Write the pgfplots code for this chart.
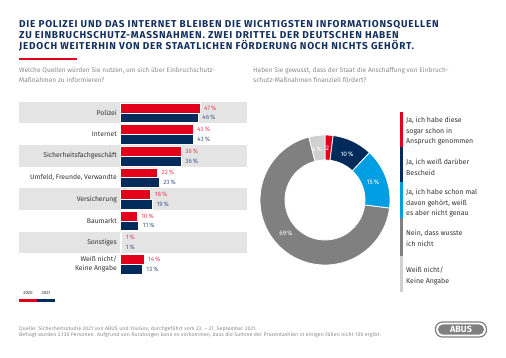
\documentclass[border=0pt]{standalone}
\usepackage{fontspec}
\setmainfont{Fira Sans}
\newfontfamily\titlefont{Fira Sans}[LetterSpace=7.5]
\newfontfamily\footfont{Fira Sans}[LetterSpace=2.2]
\usepackage{pgfplots}
\pgfplotsset{compat=1.18}
\definecolor{abusred}{HTML}{E2001A}
\definecolor{navy}{HTML}{002B5B}
\definecolor{abusblue}{HTML}{009FE3}
\definecolor{midgray}{HTML}{808080}
\definecolor{ltgray}{HTML}{D0D0D0}
\definecolor{band}{HTML}{E4E4E4}
\definecolor{titleblue}{HTML}{13305E}
\definecolor{redlab}{HTML}{E8465C}
\definecolor{navylab}{HTML}{3F5E8C}
\definecolor{qgray}{HTML}{8A8A8A}
\definecolor{txt}{HTML}{333333}
\newcommand{\seg}[3]{%
  \fill[#3, draw=white, line width=0.8pt]
    (axis cs:{65*cos(90-3.6*#1)},{65*sin(90-3.6*#1)})
    arc[start angle={90-3.6*#1}, end angle={90-3.6*(#1+#2)}, radius=65pt]
    -- (axis cs:{40*cos(90-3.6*(#1+#2))},{40*sin(90-3.6*(#1+#2))})
    arc[start angle={90-3.6*(#1+#2)}, end angle={90-3.6*#1}, radius=40pt]
    -- cycle;}
\begin{document}
\begin{tikzpicture}[x=1pt,y=1pt]
\useasboundingbox (0pt,0pt) rectangle (506pt,-357pt);
% title
\begin{scope}[every node/.style={anchor=base west, inner sep=0pt, text=titleblue, font=\titlefont\fontsize{10}{11}\selectfont\bfseries}]
\node at (19pt,-27.3pt) {DIE POLIZEI UND DAS INTERNET BLEIBEN DIE WICHTIGSTEN INFORMATIONSQUELLEN};
\node at (19pt,-38.3pt) {ZU EINBRUCHSCHUTZ-MASSNAHMEN. ZWEI DRITTEL DER DEUTSCHEN HABEN};
\node at (19pt,-49.3pt) {JEDOCH WEITERHIN VON DER STAATLICHEN FÖRDERUNG NOCH NICHTS GEHÖRT.};
\end{scope}
\fill[abusred] (19pt,-58.4pt) rectangle (77pt,-59.8pt);
% questions
\begin{scope}[every node/.style={anchor=base west, inner sep=0pt, text=qgray, font=\fontsize{6.6}{8}\selectfont}]
\node at (19pt,-72.5pt) {Welche Quellen würden Sie nutzen, um sich über Einbruchschutz-};
\node at (19pt,-82.5pt) {Maßnahmen zu informieren?};
\node at (253pt,-72.5pt) {Haben Sie gewusst, dass der Staat die Anschaffung von Einbruch-};
\node at (253pt,-82.5pt) {schutz-Maßnahmen finanziell fördert?};
\end{scope}
% row bands
\fill[band] (19pt,-102pt) rectangle (247pt,-123.3pt);
\fill[band] (19pt,-145.2pt) rectangle (247pt,-166.5pt);
\fill[band] (19pt,-188.4pt) rectangle (247pt,-209.7pt);
\fill[band] (19pt,-231.6pt) rectangle (247pt,-252.9pt);
% bar chart
\begin{axis}[
  at={(120pt,-102pt)}, anchor=north west, scale only axis,
  x=1.70pt, y=21.6pt, xmin=0, xmax=80, ymin=-0.5, ymax=7.5,
  clip=false, hide x axis,
  axis y line*=left, y axis line style={draw=none},
  major tick length=0pt, ytick style={draw=none},
  ytick={0,...,7},
  yticklabels={{Weiß nicht/\\Keine Angabe},Sonstiges,Baumarkt,Versicherung,{Umfeld, Freunde, Verwandte},Sicherheitsfachgeschäft,Internet,Polizei},
  yticklabel style={font=\fontsize{6.8}{9.5}\selectfont, text=txt, align=right, inner sep=0pt, xshift=-3pt},
  xbar, bar width=9.8pt,
  point meta=x,
  nodes near coords={\pgfmathprintnumber{\pgfplotspointmeta}\,\%},
  /pgf/number format/assume math mode=true,
  every node near coord/.append style={font=\fontsize{6.3}{7}\selectfont, inner sep=0pt, xshift=4pt, anchor=west},
]
\addplot[fill=abusred, draw=white, line width=0.5pt, bar shift=4.9pt, every node near coord/.append style={text=redlab}] coordinates {
(47,7) (43,6) (36,5) (22,4) (18,3) (10,2) (1,1) (14,0)};
\addplot[fill=navy, draw=white, line width=0.5pt, bar shift=-4.9pt, every node near coord/.append style={text=navylab}] coordinates {
(46,7) (43,6) (36,5) (23,4) (19,3) (11,2) (1,1) (13,0)};
\end{axis}
% bar legend
\node[anchor=base, inner sep=0pt, text=txt, font=\fontsize{4.5}{5}\selectfont] at (28pt,-294.5pt) {2020};
\node[anchor=base, inner sep=0pt, text=txt, font=\fontsize{4.5}{5}\selectfont] at (46pt,-294.5pt) {2021};
\fill[abusred] (19pt,-298.5pt) rectangle (36.8pt,-301.5pt);
\fill[navy] (36.8pt,-298.5pt) rectangle (55pt,-301.5pt);
% donut
\begin{axis}[at={(325pt,-200pt)}, anchor=center, x=1pt, y=1pt, scale only axis, hide axis,
  xmin=-65, xmax=65, ymin=-65, ymax=65, clip=false]
\seg{0}{2}{abusred}
\seg{2}{10}{navy}
\seg{12}{15}{abusblue}
\seg{27}{69}{midgray}
\seg{96}{4}{ltgray}
\begin{scope}[every node/.style={text=white, font=\fontsize{6.5}{7}\selectfont, inner sep=0pt}]
\node at (axis cs:2.5,51.5) {2};
\node at (axis cs:22,46) {10\,\%};
\node at (axis cs:48,18) {15\,\%};
\node at (axis cs:-39,-33) {69\,\%};
\node at (axis cs:-8,50.5) {4\,\%};
\end{scope}
\end{axis}
% donut legend
\fill[abusred] (399.5pt,-112pt) rectangle (402.5pt,-147pt);
\fill[navy] (399.5pt,-147pt) rectangle (402.5pt,-182pt);
\fill[abusblue] (399.5pt,-182pt) rectangle (402.5pt,-218pt);
\fill[midgray] (399.5pt,-218pt) rectangle (402.5pt,-256pt);
\fill[ltgray] (399.5pt,-256pt) rectangle (402.5pt,-292pt);
\begin{scope}[every node/.style={anchor=base west, inner sep=0pt, text=txt, font=\fontsize{7}{8}\selectfont}]
\node at (406pt,-122.5pt) {Ja, ich habe diese};
\node at (406pt,-133pt) {sogar schon in};
\node at (406pt,-143.5pt) {Anspruch genommen};
\node at (406pt,-164.5pt) {Ja, ich weiß darüber};
\node at (406pt,-175pt) {Bescheid};
\node at (406pt,-194.5pt) {Ja, ich habe schon mal};
\node at (406pt,-205pt) {davon gehört, weiß};
\node at (406pt,-215.5pt) {es aber nicht genau};
\node at (406pt,-235.5pt) {Nein, dass wusste};
\node at (406pt,-246pt) {ich nicht};
\node at (406pt,-272.5pt) {Weiß nicht/};
\node at (406pt,-283pt) {Keine Angabe};
\end{scope}
% footer
\begin{scope}[every node/.style={anchor=base west, inner sep=0pt, text=qgray, font=\footfont\fontsize{5.2}{6}\selectfont}]
\node at (19pt,-330.5pt) {Quelle: Sicherheitsstudie 2021 von ABUS und YouGov, durchgeführt vom 23. – 27. September 2021.};
\node at (19pt,-336.8pt) {Befragt wurden 2.130 Personen. Aufgrund von Rundungen kann es vorkommen, dass die Summe der Prozentzahlen in einigen Fällen nicht 100 ergibt.};
\end{scope}
% logo
\draw[midgray, line width=1.2pt, rounded corners=7pt] (435.5pt,-322pt) rectangle (486.5pt,-337pt);
\fill[midgray, rounded corners=5pt] (438pt,-324.4pt) rectangle (484pt,-334.6pt);
\node[text=white, font=\fontsize{9}{9}\selectfont\bfseries, inner sep=0pt] at (461pt,-329.5pt) {ABUS};
\end{tikzpicture}
\end{document}
